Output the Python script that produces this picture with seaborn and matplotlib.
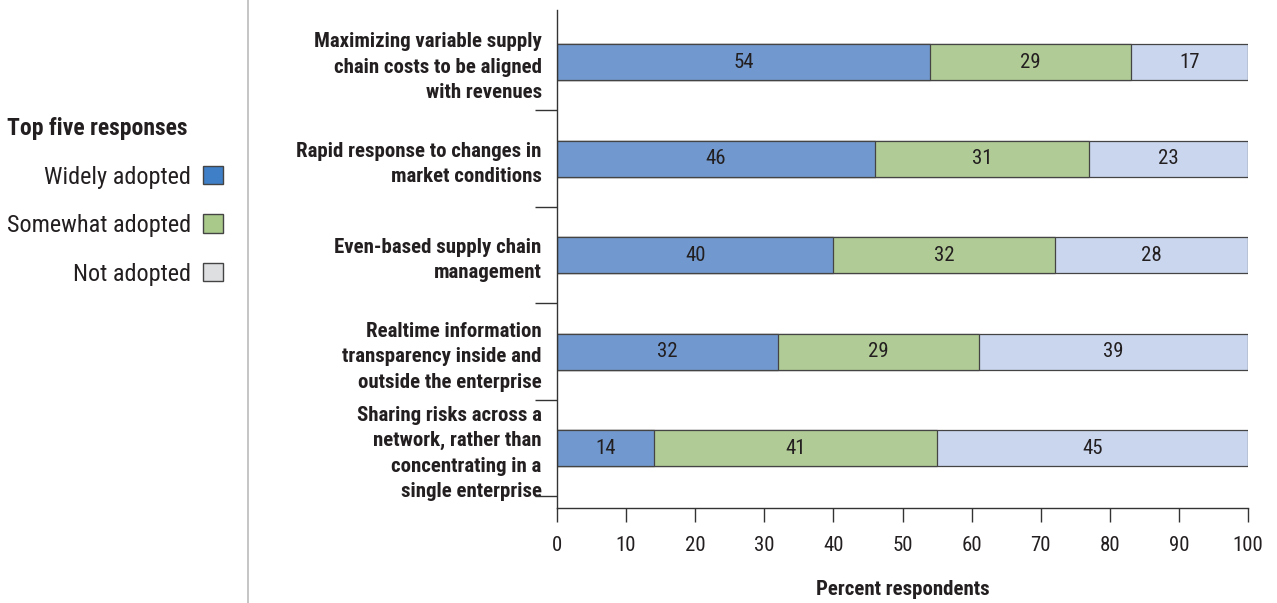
import matplotlib
matplotlib.use("Agg")
import matplotlib.pyplot as plt
from matplotlib.patches import Patch
from matplotlib.lines import Line2D
import numpy as np
import pandas as pd
import seaborn as sns

categories = [
    "Maximizing variable supply\nchain costs to be aligned\nwith revenues",
    "Rapid response to changes in\nmarket conditions",
    "Even-based supply chain\nmanagement",
    "Realtime information\ntransparency inside and\noutside the enterprise",
    "Sharing risks across a\nnetwork, rather than\nconcentrating in a\nsingle enterprise",
]
widely = [54, 46, 40, 32, 14]
somewhat = [29, 31, 32, 29, 41]
not_adopted = [17, 23, 28, 39, 45]
series_names = ["Widely adopted", "Somewhat adopted", "Not adopted"]
x_ticks = [0, 10, 20, 30, 40, 50, 60, 70, 80, 90, 100]
x_label = "Percent respondents"
legend_title = "Top five responses"

bar_colors = ["#7199CF", "#B0CB95", "#C9D6EE"]
legend_colors = ["#3F7FC8", "#A8C98A", "#DEDFE0"]

sns.set_theme(style="white")
FONT = ["Roboto Condensed", "Liberation Sans", "DejaVu Sans"]
plt.rcParams["font.family"] = FONT
TXT = "#231F20"

df = pd.DataFrame({"cat": categories, "w": widely, "s": somewhat, "n": not_adopted})
df["c1"] = df["w"]
df["c2"] = df["w"] + df["s"]
df["c3"] = df["w"] + df["s"] + df["n"]

fig = plt.figure(figsize=(12.77, 6.03), dpi=100)
ax = fig.add_axes([557 / 1277, 1 - 508 / 603, (1248 - 557) / 1277, 498 / 603])

edge = "#444444"
for col, color in zip(["c3", "c2", "c1"], bar_colors[::-1]):
    sns.barplot(data=df, x=col, y="cat", orient="h", color=color, width=0.375,
                edgecolor=edge, linewidth=0.9, saturation=1, ax=ax)

# value labels
for i, row in df.iterrows():
    starts = [0, row["c1"], row["c2"]]
    for start, v in zip(starts, [row["w"], row["s"], row["n"]]):
        ax.text(start + v / 2, i, f"{v}", ha="center", va="center",
                fontsize=15, color=TXT)

ax.set_xlim(0, 100)
ax.set_ylim(4.62, -0.54)
ax.set_xticks(x_ticks)
ax.set_xticklabels([str(t) for t in x_ticks], fontsize=15, color=TXT)
ax.set_xlabel(x_label, fontsize=15, fontweight="bold", color=TXT, labelpad=18)
ax.set_ylabel("")
ax.set_yticks(range(len(categories)))
ax.set_yticklabels(categories, fontsize=15, fontweight="bold", color=TXT,
                   ha="right", linespacing=1.42)
ax.set_yticks([i + 0.5 for i in range(len(categories))], minor=True)
ax.tick_params(axis="y", which="major", length=0, pad=11)
ax.tick_params(axis="y", which="minor", length=16, width=1.0, color="#333333", direction="out", left=True)
ax.tick_params(axis="x", which="major", length=10, width=1.0, color="#333333", direction="out", bottom=True, pad=10)

for s in ["top", "right"]:
    ax.spines[s].set_visible(False)
for s in ["left", "bottom"]:
    ax.spines[s].set_visible(True)
    ax.spines[s].set_color("#333333")
    ax.spines[s].set_linewidth(1.0)

# separator line
fig.add_artist(Line2D([248 / 1277, 248 / 1277], [0, 1], color="#BBBBBB", lw=1.2))

handles = [Patch(facecolor=c, edgecolor="#444444", linewidth=1.0) for c in legend_colors]
leg = fig.legend(handles, series_names, loc="upper left",
                 bbox_to_anchor=(7 / 1277, 1 - 117 / 603), frameon=False,
                 markerfirst=False, fontsize=17.5, title=legend_title,
                 title_fontproperties={"weight": "bold", "size": 17, "family": FONT},
                 alignment="left", handlelength=0.8, handleheight=0.8,
                 handletextpad=0.5, labelspacing=1.05, borderpad=0, borderaxespad=0)
for t in leg.get_texts():
    t.set_color(TXT)
leg.get_title().set_color(TXT)

fig.savefig("out.png", dpi=100)
